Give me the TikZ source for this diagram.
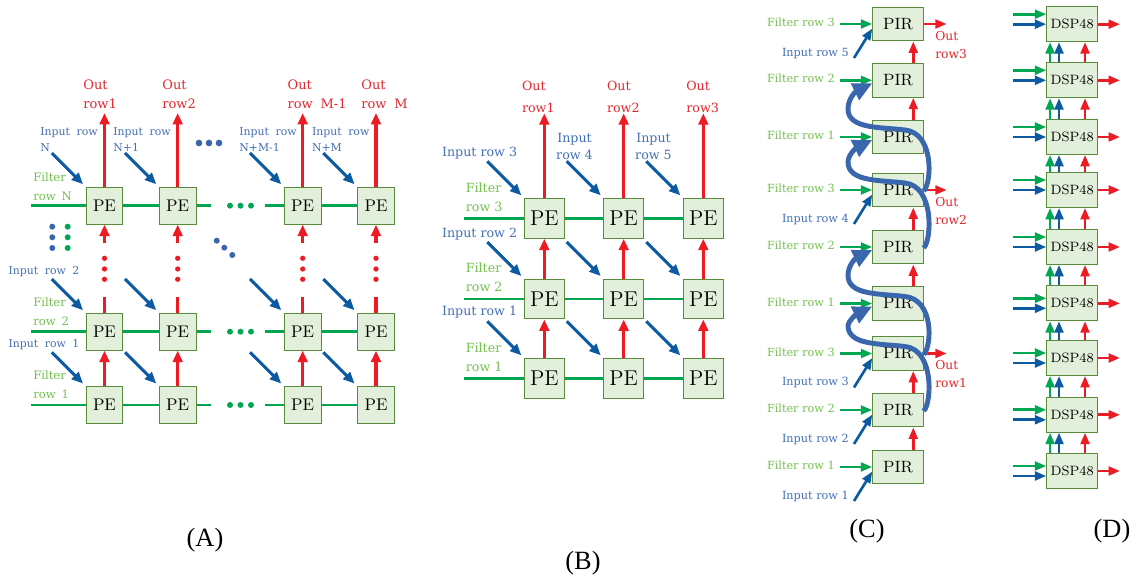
\documentclass[tikz,border=0pt]{standalone}
\usepackage{fontspec}
\usetikzlibrary{arrows.meta}
\newfontfamily\labfont{DejaVu Serif}
\newfontfamily\capfont{Liberation Serif}
\newcommand\wspA{\spaceskip=0.6em\relax}
\newcommand\wspB{\spaceskip=0.5em\relax}
\definecolor{boxfill}{HTML}{E2EFDA}
\definecolor{boxdraw}{HTML}{5A8A3C}
\definecolor{lgreen}{HTML}{00A651}
\definecolor{lred}{HTML}{ED1C24}
\definecolor{lblue}{HTML}{0B5AA2}
\definecolor{cblue}{HTML}{3A66AD}
\definecolor{tblue}{HTML}{4470B5}
\definecolor{tgreen}{HTML}{74C150}
\definecolor{tred}{HTML}{E2282E}
\newcommand\pircurve[5]{\draw[bcurve] ([yshift=-0.6pt]#4.east) .. controls (932,#1-8) and (934,#2-4) .. (905,#2-7) .. controls (880,#2-10) and (848,#2-8) .. (848,#2-28) .. controls (848,#3+18) and (856,#3+11) .. ([yshift=-1.7pt]#5.west);}
\tikzset{
  boxbase/.style={draw=boxdraw, fill=boxfill, line width=0.6pt, inner sep=0pt},
  peA/.style={boxbase, minimum width=21pt, minimum height=21pt, font=\fontsize{9.6}{10}\selectfont},
  peB/.style={boxbase, minimum width=22.7pt, minimum height=22.7pt, font=\fontsize{12.2}{13}\selectfont},
  pir/.style={boxbase, minimum width=28.7pt, minimum height=19.3pt, font=\fontsize{9.3}{10}\selectfont},
  dsp/.style={boxbase, minimum width=28.9pt, minimum height=19.8pt, font=\fontsize{7.7}{8}\selectfont},
  ah/.tip={Triangle[length=6.5pt,width=5.5pt]},
  gline/.style={draw=lgreen, line width=1.7pt},
  rline/.style={draw=lred, line width=1.8pt},
  rarr/.style={rline, -ah},
  barr/.style={draw=lblue, line width=1.7pt, -ah, shorten >=2pt},
  garr/.style={draw=lgreen, line width=1.5pt, -{Triangle[length=6.5pt,width=5pt]}},
  rarrs/.style={draw=lred, line width=1.5pt, -{Triangle[length=6.5pt,width=5pt]}},
  barrs/.style={draw=lblue, line width=1.5pt, -{Triangle[length=6.5pt,width=5pt]}},
  bcurve/.style={draw=cblue, line width=2.8pt, -{Triangle[length=11pt,width=10pt]}},
  lab/.style={inner sep=0pt, anchor=base west, align=left},
  labAin/.style={lab, text=tblue, font=\labfont\fontsize{6.2}{9.6}\selectfont\wspA},
  labAf/.style={lab, text=tgreen, font=\labfont\fontsize{6.6}{10.4}\selectfont\wspB},
  labAo/.style={lab, text=tred, font=\labfont\fontsize{7.4}{10.8}\selectfont\wspA},
  labB/.style={lab, font=\labfont\fontsize{7.2}{10.8}\selectfont},
  labC/.style={lab, font=\labfont\fontsize{6.4}{10}\selectfont},
  captxt/.style={font=\capfont\fontsize{15}{16}\selectfont, inner sep=0pt},
}
\begin{document}
\begin{tikzpicture}[x=0.02cm, y=-0.02cm]
\useasboundingbox (0,0) rectangle (1137,577);
\fill[white] (0,0) rectangle (1137,577);

%% ---------------- Panel A ----------------
\foreach \c/\x in {1/104.5,2/177.7,3/302.7,4/376}{
  \foreach \r/\y in {N/205.7,2/331.7,1/405}{
    \node[peA] (a\r\c) at (\x,\y) {PE};
  }
}
% green filter lines
\foreach \r/\y in {N/205.7,2/331.7,1/405}{
  \coordinate (agl\r) at (31,\y);
  \coordinate (age\r) at (211,\y);
  \coordinate (ags\r) at (265,\y);
  \draw[gline] (agl\r) -- (a\r1.west);
  \draw[gline] (a\r1.east) -- (a\r2.west);
  \draw[gline] (a\r2.east) -- (age\r);
  \draw[gline] (ags\r) -- (a\r3.west);
  \draw[gline] (a\r3.east) -- (a\r4.west);
  \foreach \dx in {230,240.5,251}{\fill[lgreen] (\dx,\y) circle[radius=1.7pt];}
}
% red arrows and blue input arrows
\foreach \c/\x in {1/104.5,2/177.7,3/302.7,4/376}{
  \coordinate (aout\c) at (\x,113);
  \coordinate (ast\c) at (\x,243.3);
  \coordinate (asu\c) at (\x,297.3);
  \draw[rarr] (aN\c.north) -- (aout\c);
  \draw[rarr] (ast\c) -- (aN\c.south);
  \draw[rline] (a2\c.north) -- (asu\c);
  \draw[rarr] (a1\c.north) -- (a2\c.south);
  \foreach \dy in {258.3,269,279.3}{\fill[lred] (\x,\dy) circle[radius=1.5pt];}
  \foreach \r/\y in {N/205.7,2/331.7,1/405}{
    \coordinate (abt\r\c) at (\x-52.7,\y-52.7);
    \draw[barr] (abt\r\c) -- (a\r\c.north west);
  }
}
% dots
\foreach \dx in {199,209,219}{\fill[cblue] (\dx,143) circle[radius=1.9pt];}
\foreach \dy in {226.7,237.3,248}{\fill[cblue] (52.3,\dy) circle[radius=1.7pt];\fill[lgreen] (67.7,\dy) circle[radius=1.7pt];}
\fill[cblue] (216.7,240.7) circle[radius=1.7pt] (224.3,247.7) circle[radius=1.7pt] (232.3,255) circle[radius=1.7pt];
% labels (base anchor = baseline of last line)
\node[labAo] (aoutl1) at (83,108.8) {Out\\row1};
\node[labAo] (aoutl2) at (162,108.8) {Out\\row2};
\node[labAo] (aoutl3) at (287.3,108.8) {Out\\row M-1};
\node[labAo] (aoutl4) at (361,108.8) {Out\\row M};
\node[labAin] (ainl1) at (40,151.9) {Input row\\N};
\node[labAin] (ainl2) at (113,151.9) {Input row\\N+1};
\node[labAin] (ainl3) at (239,151.9) {Input row\\N+M-1};
\node[labAin] (ainl4) at (311.7,151.9) {Input row\\N+M};
\node[labAin] (ainr2) at (8.3,275) {Input row 2};
\node[labAin] (ainr1) at (8.3,348) {Input row 1};
\node[labAf] (afN) at (33,200.2) {Filter\\row N};
\node[labAf] (af2) at (33,325.2) {Filter\\row 2};
\node[labAf] (af1) at (33,398.2) {Filter\\row 1};
\node[captxt] (capA) at (205,540) {(A)};

%% ---------------- Panel B ----------------
\foreach \c/\x in {1/544.3,2/623.7,3/703.3}{
  \foreach \r/\y in {3/218.3,2/299,1/378.3}{
    \node[peB] (b\r\c) at (\x,\y) {PE};
  }
}
\foreach \r/\y in {3/218.3,2/299,1/378.3}{
  \coordinate (bgl\r) at (464.3,\y);
  \draw[gline] (bgl\r) -- (b\r1.west);
  \draw[gline] (b\r1.east) -- (b\r2.west);
  \draw[gline] (b\r2.east) -- (b\r3.west);
}
\foreach \c/\x in {1/544.3,2/623.7,3/703.3}{
  \coordinate (bout\c) at (\x,113.3);
  \draw[rarr] (b3\c.north) -- (bout\c);
  \draw[rarr] (b2\c.north) -- (b3\c.south);
  \draw[rarr] (b1\c.north) -- (b2\c.south);
  \foreach \r/\y in {3/218.3,2/299,1/378.3}{
    \coordinate (bbt\r\c) at (\x-57,\y-57);
    \draw[barr] (bbt\r\c) -- (b\r\c.north west);
  }
}
\node[labB, text=tred, font=\labfont\fontsize{7.2}{12.8}\selectfont] (boutl1) at (521.7,112.9) {Out\\row1};
\node[labB, text=tred, font=\labfont\fontsize{7.2}{12.8}\selectfont] (boutl2) at (606.7,112.9) {Out\\row2};
\node[labB, text=tred, font=\labfont\fontsize{7.2}{12.8}\selectfont] (boutl3) at (686,112.9) {Out\\row3};
\node[labB, text=tblue] (binl3) at (441.7,156.3) {Input row 3};
\node[labB, text=tblue, anchor=base, align=center, font=\labfont\fontsize{7.2}{9.8}\selectfont] (binl4) at (574.5,159.6) {Input\\row 4};
\node[labB, text=tblue, anchor=base, align=center, font=\labfont\fontsize{7.2}{9.8}\selectfont] (binl5) at (653.5,159.6) {Input\\row 5};
\node[labB, text=tblue] (binl2) at (441.7,237.3) {Input row 2};
\node[labB, text=tblue] (binl1) at (441.7,315.3) {Input row 1};
\node[labB, text=tgreen] (bf3) at (465.5,211.9) {Filter\\row 3};
\node[labB, text=tgreen] (bf2) at (465.5,291.3) {Filter\\row 2};
\node[labB, text=tgreen] (bf1) at (465.5,371.3) {Filter\\row 1};
\node[captxt] (capB) at (583,563) {(B)};

%% ---------------- Panel C ----------------
\foreach \k/\y/\f in {1/24/3,2/80.3/2,3/137/1,4/190/3,5/247/2,6/303.5/1,7/353.5/3,8/410/2,9/467/1}{
  \node[pir] (c\k) at (898,\y) {PIR};
  \coordinate (cgt\k) at (840,\y);
  \draw[garr] (cgt\k) -- (c\k.west);
  \node[labC, text=tgreen] (cfl\k) at (766.7,\y+2.6) {Filter row \f};
}
\foreach \k/\y/\i in {1/24/5,4/190/4,7/353.5/3,8/410/2,9/467/1}{
  \coordinate (cbt\k) at (854,\y+34);
  \draw[barrs] (cbt\k) -- ([yshift=-2.6pt]c\k.west);
  \node[labC, text=tblue] (cil\k) at (781.7,\y+32.4) {Input row \i};
}
\foreach \a/\b in {9/8,8/7,6/5,5/4,3/2,2/1}{
  \draw[rarrs] ([xshift=8.7pt]c\a.north) -- ([xshift=8.7pt]c\b.south);
}
\foreach \k/\y/\o in {1/24/3,4/190/2,7/353.5/1}{
  \coordinate (cot\k) at (946.7,\y);
  \draw[rarrs] (c\k.east) -- (cot\k);
  \node[labC, text=tred, font=\labfont\fontsize{7}{10.4}\selectfont] (col\k) at (935,\y+34.5) {Out\\row\o};
}
\pircurve{410}{353.5}{303.5}{c8}{c6}
\pircurve{353.5}{303.5}{247}{c7}{c5}
\pircurve{247}{190}{137}{c5}{c3}
\pircurve{190}{137}{80.3}{c4}{c2}
\node[captxt] (capC) at (867,531) {(C)};

%% ---------------- Panel D ----------------
\foreach \k/\y/\g/\bb in {1/24.2/-10/0,2/80.3/-10/0,3/137/-10/0,4/190/-10/0,5/247/-10/0,6/303.3/-5/5,7/358/-5/5,8/414.8/-5/5,9/471/-5/5}{
  \node[dsp] (d\k) at (1072.2,\y) {DSP48};
  \coordinate (dgt\k) at (1013.3,\y+\g);
  \coordinate (dbt\k) at (1013.3,\y+\bb);
  \coordinate (drt\k) at (1120,\y);
  \draw[garr] (dgt\k) -- (d\k.west |- dgt\k);
  \draw[barrs] (dbt\k) -- (d\k.west |- dbt\k);
  \draw[rarrs] (d\k.east) -- (drt\k);
}
\foreach \a/\b in {9/8,8/7,7/6,6/5,5/4,4/3,3/2,2/1}{
  \draw[garr] ([xshift=-12.6pt]d\a.north) -- ([xshift=-12.6pt]d\b.south);
  \draw[barrs] ([xshift=-7.5pt]d\a.north) -- ([xshift=-7.5pt]d\b.south);
  \draw[rarrs] ([xshift=7.3pt]d\a.north) -- ([xshift=7.3pt]d\b.south);
}
\node[captxt] (capD) at (1112,531) {(D)};
\end{tikzpicture}
\end{document}
